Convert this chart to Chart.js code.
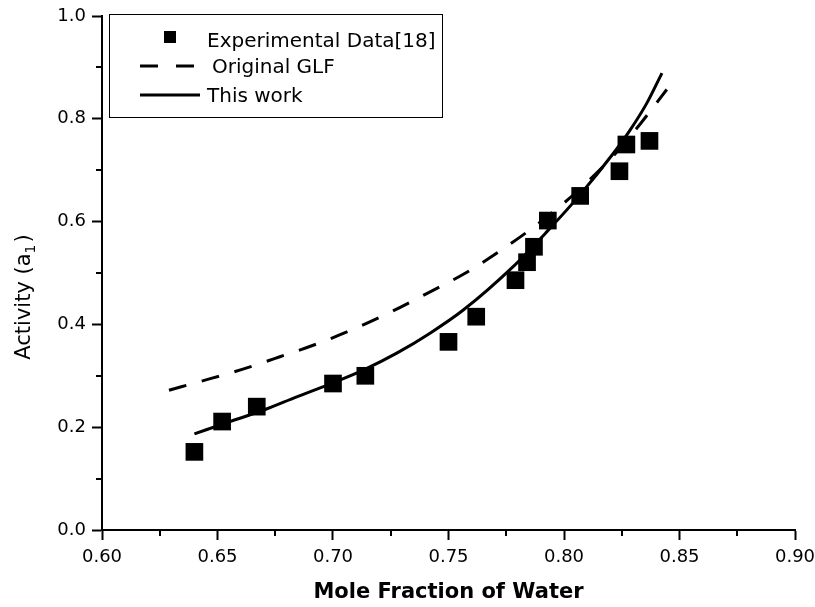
<!DOCTYPE html>
<html>
<head>
<meta charset="utf-8">
<script src="https://cdn.jsdelivr.net/npm/chart.js@4/dist/chart.umd.min.js"></script>
<style>
  html, body { margin: 0; padding: 0; background: #fff; }
  #wrap { width: 815px; height: 607px; }
</style>
</head>
<body>
<div id="wrap"><canvas id="c" width="815" height="607"></canvas></div>
<script>
// ---- data ----
const expX = [0.640, 0.652, 0.667, 0.700, 0.714, 0.750, 0.762, 0.779, 0.784, 0.787, 0.793, 0.807, 0.824, 0.827, 0.837];
const expY = [0.152, 0.211, 0.240, 0.285, 0.300, 0.366, 0.415, 0.486, 0.521, 0.551, 0.602, 0.650, 0.698, 0.750, 0.757];

const glfX = [0.629, 0.645, 0.661, 0.677, 0.693, 0.709, 0.725, 0.741, 0.757, 0.773, 0.790, 0.806, 0.822, 0.833, 0.8445];
const glfY = [0.272, 0.292, 0.313, 0.337, 0.362, 0.391, 0.424, 0.461, 0.499, 0.545, 0.600, 0.660, 0.731, 0.790, 0.857];

const workX = [0.640, 0.6554, 0.6698, 0.6843, 0.6987, 0.7131, 0.7276, 0.742, 0.7564, 0.7781, 0.7925, 0.8069, 0.8214, 0.8286, 0.8358, 0.8424];
const workY = [0.187, 0.211, 0.233, 0.259, 0.284, 0.311, 0.344, 0.383, 0.428, 0.513, 0.580, 0.652, 0.733, 0.778, 0.830, 0.889];

const seriesLabels = ['Experimental Data[18]', 'Original GLF', 'This work'];
const xTitle = 'Mole Fraction of Water';
const yTitleMain = 'Activity (a';
const yTitleSub = '1';
const yTitleEnd = ')';
const xMinorTicks = [0.625, 0.675, 0.725, 0.775, 0.825, 0.875];
const yMinorTicks = [0.1, 0.3, 0.5, 0.7, 0.9];

const FONT = '"DejaVu Sans", "Liberation Sans", Arial, sans-serif';
const toPts = (xs, ys) => xs.map((x, i) => ({ x: x, y: ys[i] }));

const overlay = {
  id: 'overlay',
  afterDraw(chart) {
    const ctx = chart.ctx;
    const xs = chart.scales.x, ys = chart.scales.y;
    ctx.save();
    ctx.strokeStyle = '#000';
    ctx.fillStyle = '#000';
    ctx.lineWidth = 2;
    // minor ticks
    xMinorTicks.forEach(v => {
      const p = Math.round(xs.getPixelForValue(v));
      ctx.beginPath(); ctx.moveTo(p, ys.bottom); ctx.lineTo(p, ys.bottom + 6); ctx.stroke();
    });
    yMinorTicks.forEach(v => {
      const p = Math.round(ys.getPixelForValue(v));
      ctx.beginPath(); ctx.moveTo(xs.left, p); ctx.lineTo(xs.left - 6, p); ctx.stroke();
    });

    // y-axis title with subscript
    ctx.save();
    ctx.translate(30, 297);
    ctx.rotate(-Math.PI / 2);
    ctx.textBaseline = 'alphabetic';
    ctx.textAlign = 'left';
    const fMain = '21px ' + FONT, fSub = '14px ' + FONT;
    ctx.font = fMain; const w1 = ctx.measureText(yTitleMain).width; const w3 = ctx.measureText(yTitleEnd).width;
    ctx.font = fSub; const w2 = ctx.measureText(yTitleSub).width;
    let sx = -(w1 + w2 + w3 + 2) / 2;
    ctx.font = fMain; ctx.fillText(yTitleMain, sx, 0); sx += w1;
    ctx.font = fSub; ctx.fillText(yTitleSub, sx, 5); sx += w2 + 2;
    ctx.font = fMain; ctx.fillText(yTitleEnd, sx, 0);
    ctx.restore();

    // legend box
    ctx.lineWidth = 1;
    ctx.strokeRect(109.5, 14.5, 333, 103);
    ctx.font = '20px ' + FONT;
    ctx.textBaseline = 'alphabetic';
    ctx.textAlign = 'left';
    // item 1: square marker
    ctx.fillRect(164, 31, 12, 12);
    ctx.fillText(seriesLabels[0], 207, 47);
    // item 2: dashed line
    ctx.lineWidth = 3;
    ctx.setLineDash([18, 18]);
    ctx.beginPath(); ctx.moveTo(140, 66); ctx.lineTo(196, 66); ctx.stroke();
    ctx.setLineDash([]);
    ctx.fillText(seriesLabels[1], 212, 73);
    // item 3: solid line
    ctx.beginPath(); ctx.moveTo(140, 95); ctx.lineTo(200, 95); ctx.stroke();
    ctx.fillText(seriesLabels[2], 207, 102);
    ctx.restore();
  }
};

new Chart(document.getElementById('c'), {
  type: 'scatter',
  data: {
    datasets: [
      {
        label: seriesLabels[0],
        data: toPts(expX, expY),
        pointStyle: 'rect',
        pointRadius: 12.5,
        pointBorderWidth: 0,
        backgroundColor: '#000',
        borderColor: '#000',
        showLine: false,
        order: 1
      },
      {
        label: seriesLabels[1],
        data: toPts(glfX, glfY),
        showLine: true,
        borderColor: '#000',
        borderWidth: 3,
        borderDash: [18, 16],
        pointRadius: 0,
        cubicInterpolationMode: 'monotone',
        fill: false,
        order: 2
      },
      {
        label: seriesLabels[2],
        data: toPts(workX, workY),
        showLine: true,
        borderColor: '#000',
        borderWidth: 3,
        pointRadius: 0,
        cubicInterpolationMode: 'monotone',
        fill: false,
        order: 3
      }
    ]
  },
  options: {
    responsive: false,
    animation: false,
    devicePixelRatio: 1,
    layout: { padding: { top: 16, right: 20, left: 0, bottom: 0 } },
    plugins: {
      legend: { display: false },
      tooltip: { enabled: false }
    },
    scales: {
      x: {
        type: 'linear',
        min: 0.6, max: 0.9,
        afterFit: s => { s.height = 77; s.paddingLeft = 0; s.paddingRight = 0; },
        border: { display: true, color: '#000', width: 2 },
        grid: { display: true, drawOnChartArea: false, tickLength: 10, tickWidth: 2, tickColor: '#000' },
        ticks: {
          stepSize: 0.05,
          color: '#000',
          padding: 7,
          maxRotation: 0,
          font: { family: FONT, size: 18 },
          callback: v => Number(v).toFixed(2)
        },
        title: {
          display: true,
          text: xTitle,
          color: '#000',
          font: { family: FONT, size: 21, weight: 'bold' },
          padding: { top: 0, bottom: 2 }
        }
      },
      y: {
        type: 'linear',
        min: 0, max: 1.0,
        afterFit: s => { s.width = 102; s.paddingTop = 0; s.paddingBottom = 0; },
        border: { display: true, color: '#000', width: 2 },
        grid: { display: true, drawOnChartArea: false, tickLength: 10, tickWidth: 2, tickColor: '#000' },
        ticks: {
          stepSize: 0.2,
          color: '#000',
          padding: 6,
          font: { family: FONT, size: 18 },
          callback: v => Number(v).toFixed(1)
        }
      }
    }
  },
  plugins: [overlay]
});
</script>
</body>
</html>
